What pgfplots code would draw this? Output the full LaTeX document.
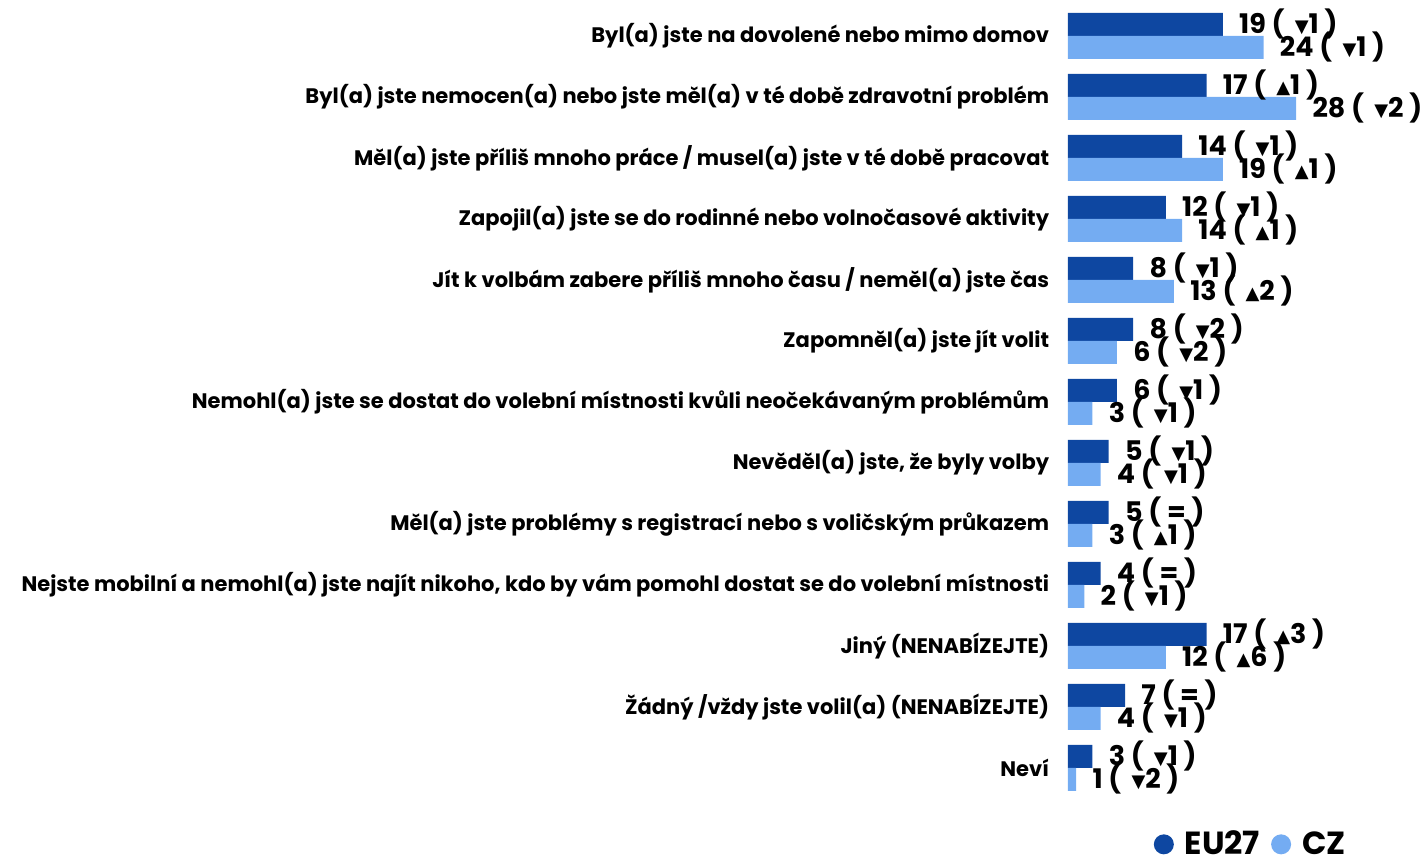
\documentclass[border=0pt]{standalone}
\usepackage{fontspec}
\setmainfont{Poppins}
\newfontfamily\dejavu{DejaVu Sans}
\usepackage{pgfplots}
\pgfplotsset{compat=1.18}
\definecolor{eu}{HTML}{0E47A1}
\definecolor{cz}{HTML}{74ACF2}
\protected\def\dn{\,{\dejavu\fontsize{9}{9}\selectfont\raisebox{0.5pt}{▼}}}
\protected\def\up{\,{\dejavu\fontsize{9}{9}\selectfont\raisebox{0.5pt}{▲}}}
\begin{document}
\begin{tikzpicture}
\begin{axis}[
  name=ax, scale only axis, width=163pt, height=396.5pt,
  xmin=0, xmax=40, ymin=-0.5, ymax=12.5,
  axis line style={draw=none}, tick style={draw=none},
  xtick=\empty,
  xbar, bar width=11.5pt,
  ytick={0,...,12},
  yticklabels={Neví,
    Žádný /vždy jste volil(a) (NENABÍZEJTE),
    Jiný (NENABÍZEJTE),
    {Nejste mobilní a nemohl(a) jste najít nikoho, kdo by vám pomohl dostat se do volební místnosti},
    Měl(a) jste problémy s registrací nebo s voličským průkazem,
    {Nevěděl(a) jste, že byly volby},
    Nemohl(a) jste se dostat do volební místnosti kvůli neočekávaným problémům,
    Zapomněl(a) jste jít volit,
    Jít k volbám zabere příliš mnoho času / neměl(a) jste čas,
    Zapojil(a) jste se do rodinné nebo volnočasové aktivity,
    Měl(a) jste příliš mnoho práce / musel(a) jste v té době pracovat,
    Byl(a) jste nemocen(a) nebo jste měl(a) v té době zdravotní problém,
    Byl(a) jste na dovolené nebo mimo domov},
  yticklabel style={font=\fontsize{10.5}{12}\selectfont\bfseries, inner sep=0pt, xshift=-5pt},
  point meta=explicit symbolic,
  nodes near coords,
  nodes near coords style={anchor=west, font=\fontsize{13.5}{14}\selectfont\bfseries, inner sep=0pt, xshift=8pt, text=black},
  legend columns=2,
  legend style={draw=none, at={(rel axis cs:1,0)}, anchor=north east, xshift=-19pt, yshift=-14pt,
    font=\fontsize{16}{16}\selectfont\bfseries, column sep=0.5pt, inner sep=0pt,
    nodes={inner xsep=5pt}},
]
\addplot[fill=eu, draw=none, bar shift=5.75pt,
  legend image code/.code={\fill[eu] (0pt,0pt) circle (5pt);}] coordinates {
 (19,12) [19 ( \dn1 )]
 (17,11) [17 ( \up1 )]
 (14,10) [14 ( \dn1 )]
 (12,9) [12 ( \dn1 )]
 (8,8) [8 ( \dn1 )]
 (8,7) [8 ( \dn2 )]
 (6,6) [6 ( \dn1 )]
 (5,5) [5 ( \dn1 )]
 (5,4) [5 ( = )]
 (4,3) [4 ( = )]
 (17,2) [17 ( \up3 )]
 (7,1) [7 ( = )]
 (3,0) [3 ( \dn1 )]
};
\addlegendentry{EU27}
\addplot[fill=cz, draw=none, bar shift=-5.75pt,
  legend image code/.code={\fill[cz] (0pt,0pt) circle (5pt);}] coordinates {
 (24,12) [24 ( \dn1 )]
 (28,11) [28 ( \dn2 )]
 (19,10) [19 ( \up1 )]
 (14,9) [14 ( \up1 )]
 (13,8) [13 ( \up2 )]
 (6,7) [6 ( \dn2 )]
 (3,6) [3 ( \dn1 )]
 (4,5) [4 ( \dn1 )]
 (3,4) [3 ( \up1 )]
 (2,3) [2 ( \dn1 )]
 (12,2) [12 ( \up6 )]
 (4,1) [4 ( \dn1 )]
 (1,0) [1 ( \dn2 )]
};
\addlegendentry{CZ}
\end{axis}
\pgfresetboundingbox
\path[use as bounding box] ([shift={(-534pt,-30.75pt)}]ax.south west) rectangle ([shift={(178.5pt,399.25pt)}]ax.south west);
\end{tikzpicture}
\end{document}
